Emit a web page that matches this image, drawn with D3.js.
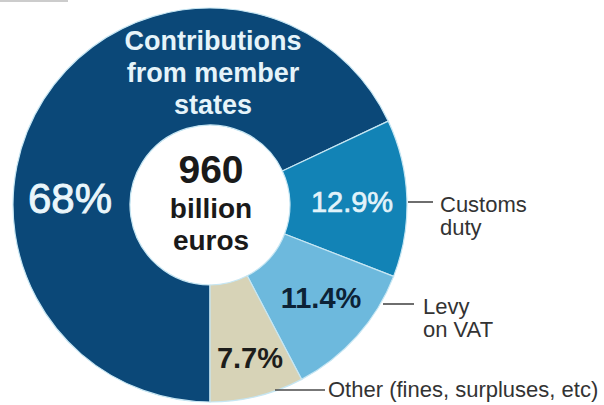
<!DOCTYPE html>
<html>
<head>
<meta charset="utf-8">
<script src="https://cdn.jsdelivr.net/npm/d3@7"></script>
<style>
  body { margin: 0; background: #fff; }
  svg { display: block; font-family: "Liberation Sans", Arial, Helvetica, sans-serif; }
</style>
</head>
<body>
<div id="chart"></div>
<script>
// data
var categories = ["Contributions from member states", "Customs duty", "Levy on VAT", "Other (fines, surpluses, etc)"];
var shares = [68, 12.9, 11.4, 7.7];
var shareLabels = ["68%", "12.9%", "11.4%", "7.7%"];
var totalLabel = ["960", "billion", "euros"];

var width = 604, height = 405;
var cx = 210, cy = 205;
var innerR = 80, outerR = 197;

var colors = ["#0b4878", "#1283b6", "#6db9dd", "#d7d3b7"];

var svg = d3.select("#chart")
  .append("svg")
    .attr("width", width)
    .attr("height", height);

// faint remnant line at the very top
svg.append("line")
  .attr("x1", 0).attr("x2", 68).attr("y1", 1).attr("y2", 1)
  .attr("stroke", "#bbb").attr("stroke-width", 1.5);

var g = svg.append("g")
  .attr("transform", "translate(" + cx + "," + cy + ")");

// pie starts at the bottom and goes clockwise
var pie = d3.pie()
  .sort(null)
  .startAngle(Math.PI)
  .endAngle(3 * Math.PI)
  .value(function(d) { return d; });

var arc = d3.arc()
  .innerRadius(innerR)
  .outerRadius(outerR);

var arcs = pie(shares);

g.selectAll("path.slice")
  .data(arcs)
  .enter()
  .append("path")
    .attr("class", "slice")
    .attr("d", arc)
    .attr("fill", function(d, i) { return colors[i]; })
    .attr("stroke", "#c6e6f3")
    .attr("stroke-width", 1.2);

// percentage labels
var pctPos = [[-140, 8], [142, 7], [111, 103], [40, 163]];
var pctStyle = [
  {size: 42, weight: "normal", fill: "#eaf6fb", stroke: 0.9},
  {size: 29, weight: "normal", fill: "#e2f3fa", stroke: 0.7},
  {size: 29, weight: "bold", fill: "#0c2236", stroke: 0},
  {size: 29, weight: "bold", fill: "#1d1d1b", stroke: 0}
];

g.selectAll("text.pct")
  .data(shareLabels)
  .enter()
  .append("text")
    .attr("class", "pct")
    .attr("x", function(d, i) { return pctPos[i][0]; })
    .attr("y", function(d, i) { return pctPos[i][1]; })
    .attr("text-anchor", "middle")
    .style("font-size", function(d, i) { return pctStyle[i].size + "px"; })
    .style("font-weight", function(d, i) { return pctStyle[i].weight; })
    .style("fill", function(d, i) { return pctStyle[i].fill; })
    .style("stroke", function(d, i) { return pctStyle[i].fill; })
    .style("stroke-width", function(d, i) { return pctStyle[i].stroke; })
    .text(function(d) { return d; });

// title of the big slice, at the top
var titleLines = ["Contributions", "from member", "states"];
g.append("text")
  .attr("text-anchor", "middle")
  .style("font-size", "27px")
  .style("font-weight", "bold")
  .style("fill", "#e6f4fa")
  .selectAll("tspan")
  .data(titleLines)
  .enter()
  .append("tspan")
    .attr("x", 3)
    .attr("y", function(d, i) { return -155 + i * 32; })
    .text(function(d) { return d; });

// total in the hole
var totalY = [-22, 13, 45];
var totalSize = [39, 28, 28];
g.selectAll("text.total")
  .data(totalLabel)
  .enter()
  .append("text")
    .attr("class", "total")
    .attr("x", 1)
    .attr("y", function(d, i) { return totalY[i]; })
    .attr("text-anchor", "middle")
    .style("font-size", function(d, i) { return totalSize[i] + "px"; })
    .style("font-weight", "bold")
    .style("fill", "#1a1a1a")
    .text(function(d) { return d; });

// outside labels with leader lines
var outside = [
  {i: 1, line: [408, 433, 202], x: 440, y: 212, lines: ["Customs", "duty"]},
  {i: 2, line: [383, 414, 304], x: 423, y: 314, lines: ["Levy", "on VAT"]},
  {i: 3, line: [275, 325, 390], x: 328, y: 397, lines: [categories[3]]}
];

outside.forEach(function(o) {
  svg.append("line")
    .attr("x1", o.line[0]).attr("x2", o.line[1])
    .attr("y1", o.line[2]).attr("y2", o.line[2])
    .attr("stroke", "#4a4a4a")
    .attr("stroke-width", 1.6);

  svg.append("text")
    .attr("x", o.x)
    .attr("y", o.y)
    .style("font-size", "22px")
    .style("fill", "#333")
    .selectAll("tspan")
    .data(o.lines)
    .enter()
    .append("tspan")
      .attr("x", o.x)
      .attr("dy", function(d, j) { return j == 0 ? 0 : 23; })
      .text(function(d) { return d; });
});
</script>
</body>
</html>
